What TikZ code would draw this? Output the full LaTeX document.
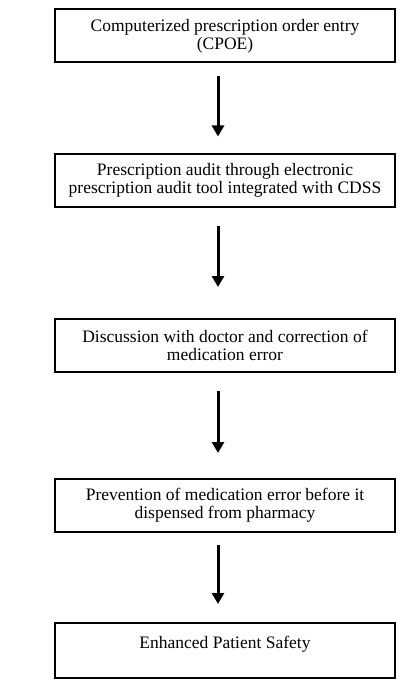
\documentclass[tikz,border=0pt]{standalone}
\usepackage{fontspec}
\setmainfont{Liberation Serif}
\usetikzlibrary{arrows.meta,positioning}
\tikzset{
  fc diagram/.style={x=1pt, y=-1pt, font=\fontsize{17.5}{18}\selectfont,
    line cap=butt, line join=miter},
  fc box/.style={draw=black, fill=white, line width=2pt, minimum width=340pt,
    minimum height=53pt, align=center, inner sep=0pt},
  fc end box/.style={fc box, text height=25pt, text depth=30pt},
  fc arrow/.style={-{Triangle[width=12pt,length=11pt]}, draw=black, line width=3pt}
}

\begin{document}
\begin{tikzpicture}[fc diagram]
\useasboundingbox (0,0) rectangle (406,682);
\node[fc box] (cpoe) at (225,36) {Computerized prescription order entry\\(CPOE)};
\node[fc box] (audit) at (225,180) {Prescription audit through electronic\\prescription audit tool integrated with CDSS};
\node[fc box] (discuss) at (225,345.5) {Discussion with doctor and correction of\\medication error};
\node[fc box] (prevent) at (225,505.5) {Prevention of medication error before it\\dispensed from pharmacy};
\node[fc end box] (safety) at (225,650.5) {Enhanced Patient Safety};
\coordinate (col) at (218,0);
\draw[fc arrow] ([yshift=-13pt]cpoe.south -| col) -- ([yshift=16pt]audit.north -| col);
\draw[fc arrow] ([yshift=-18pt]audit.south -| col) -- ([yshift=31pt]discuss.north -| col);
\draw[fc arrow] ([yshift=-18pt]discuss.south -| col) -- ([yshift=25pt]prevent.north -| col);
\draw[fc arrow] ([yshift=-12pt]prevent.south -| col) -- ([yshift=18pt]safety.north -| col);
\end{tikzpicture}
\end{document}
